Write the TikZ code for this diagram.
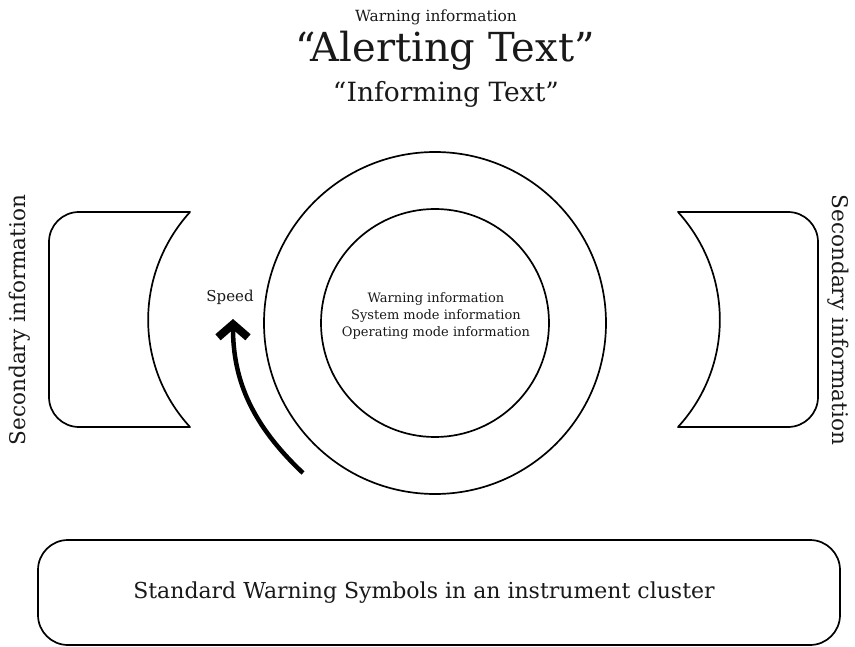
\documentclass[tikz,border=0pt]{standalone}
\usepackage{fontspec}
\setmainfont{DejaVu Serif}
\usetikzlibrary{arrows.meta}
\begin{document}
\begin{tikzpicture}[x=1pt,y=-1pt,
  outline/.style={draw=black,line width=1.7pt,line join=round},
  ring/.style={draw=black,line width=1.7pt},
  label/.style={inner sep=0pt,align=center,text=black!90},
]
\useasboundingbox (0,0) rectangle (855,647);

% headline texts
\node[label,font=\fontsize{15.4}{17}\selectfont,anchor=base] (warnhead) at (436,22) {Warning information};
\node[label,font=\fontsize{40}{44}\selectfont,anchor=base] (alert) at (445,62) {“Alerting Text”};
\node[label,font=\fontsize{26.5}{30}\selectfont,anchor=base] (inform) at (446,102) {“Informing Text”};

% gauge rings
\draw[ring] (435,323) circle[radius=171];
\draw[ring] (435,323) circle[radius=114];
\node[label,font=\fontsize{13}{17}\selectfont] (centre) at (436,316)
  {Warning information\\System mode information\\Operating mode information};

% speed arrow
\node[label,font=\fontsize{15}{17}\selectfont] (speed) at (230,297) {Speed};
\coordinate (arrowstart) at (303,473);
\coordinate (arrowtip) at (233,319);
\draw[line width=4.5pt,-{Straight Barb[length=13pt,width=30pt,line width=8pt]}]
  (arrowstart) .. controls (252,425) and (233,380) .. (arrowtip);

% side panels
\draw[outline] (190,212) -- (79,212) .. controls (62.4,212) and (49,225.4) .. (49,242)
  -- (49,397) .. controls (49,413.6) and (62.4,427) .. (79,427) -- (190,427)
  .. controls (134.2,366.2) and (134.2,273.8) .. (190,212) -- cycle;
\draw[outline] (678,212) -- (788,212) .. controls (804.6,212) and (818,225.4) .. (818,242)
  -- (818,397) .. controls (818,413.6) and (804.6,427) .. (788,427) -- (678,427)
  .. controls (733.8,366.2) and (733.8,273.8) .. (678,212) -- cycle;
\node[label,font=\fontsize{21.6}{24}\selectfont,rotate=90] (secleft) at (20,320) {Secondary information};
\node[label,font=\fontsize{21.6}{24}\selectfont,rotate=-90] (secright) at (838,320) {Secondary information};

% bottom strip
\draw[outline,rounded corners=30pt] (38,540) rectangle (840,645);
\node[label,font=\fontsize{22}{26}\selectfont] (symbols) at (424,593) {Standard Warning Symbols in an instrument cluster};
\end{tikzpicture}
\end{document}
